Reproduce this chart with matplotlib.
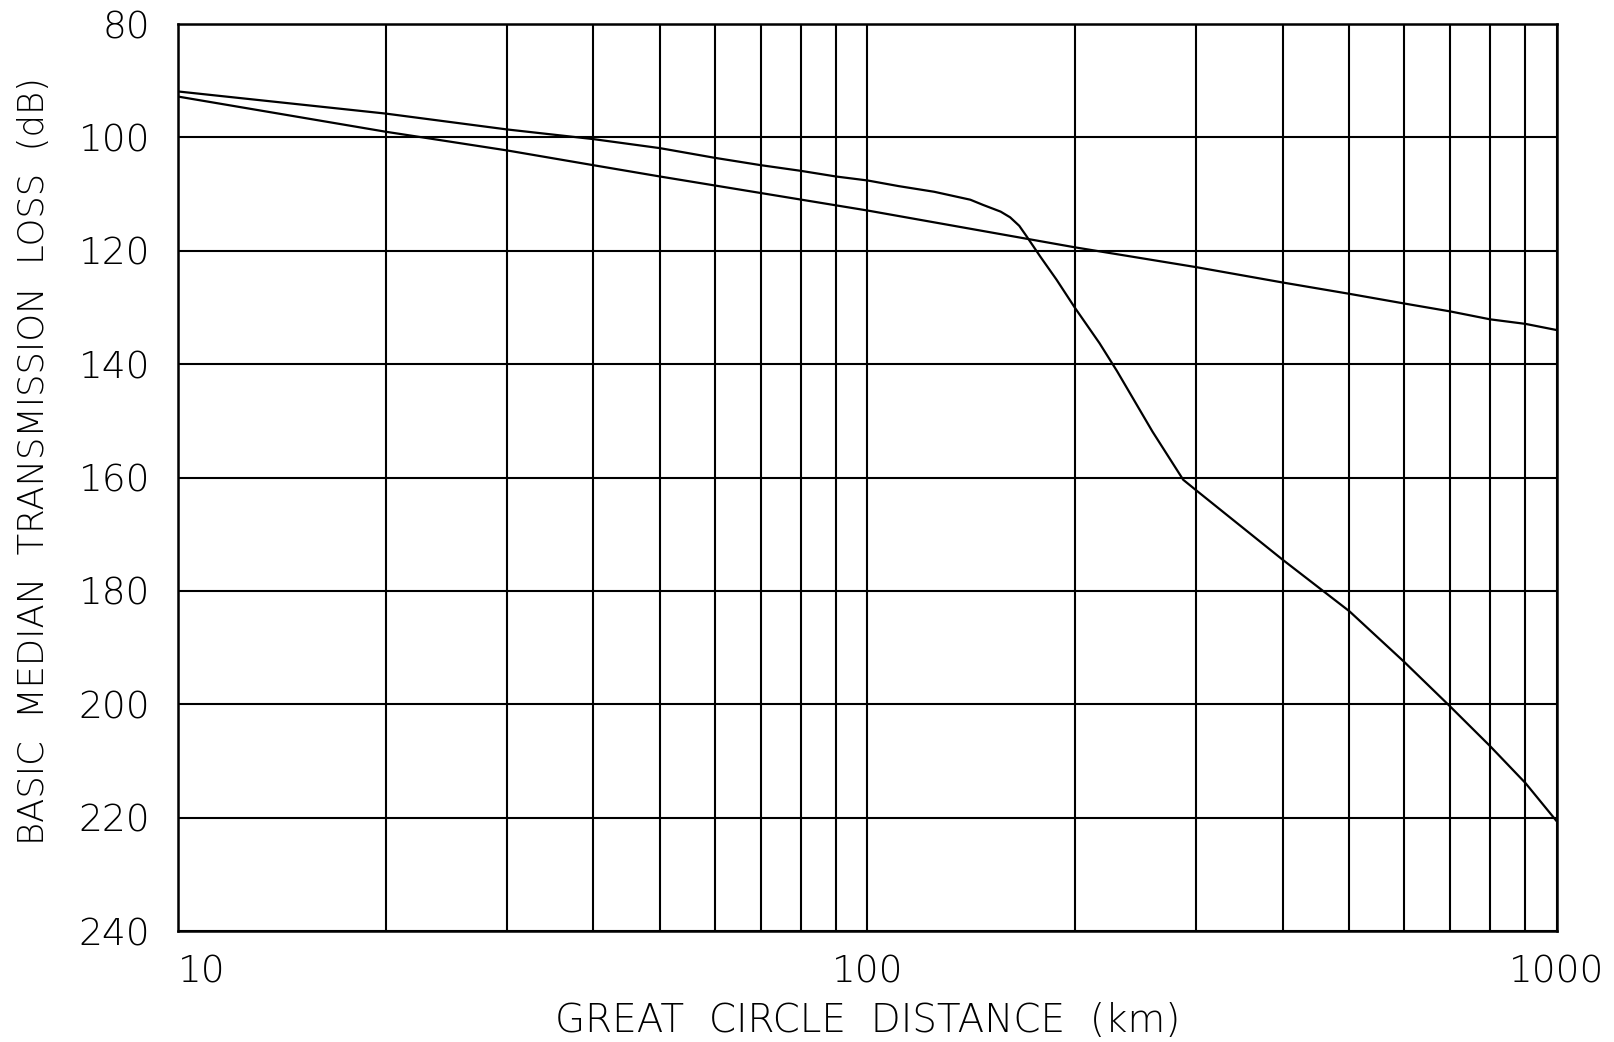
import matplotlib
matplotlib.use("Agg")
import matplotlib.pyplot as plt
from matplotlib.ticker import FixedLocator, NullFormatter

# Distance (km) and basic median transmission loss (dB)
dist_a = [10, 20, 30, 40, 50, 60, 70, 80, 90, 100, 111, 125, 141, 147, 156,
          161, 166, 170, 178, 188, 200, 217, 230, 259, 287, 300, 400, 500,
          600, 700, 800, 900, 1000]
loss_a = [91.9, 95.8, 98.6, 100.3, 101.9, 103.6, 104.9, 105.9, 106.9, 107.6,
          108.6, 109.6, 111.0, 111.9, 113.1, 114.1, 115.6, 117.4, 121.0,
          125.1, 130.1, 136.3, 141.2, 151.9, 160.4, 162.3, 174.5, 183.6,
          192.5, 200.4, 207.4, 213.9, 220.7]

dist_b = [10, 20, 30, 40, 50, 100, 200, 300, 400, 500, 600, 700, 800, 900,
          1000]
loss_b = [92.8, 99.0, 102.3, 104.9, 106.9, 112.9, 119.4, 122.9, 125.6, 127.6,
          129.3, 130.7, 132.1, 132.9, 134.0]

x_ticks = [10, 100, 1000]
x_tick_labels = ["10", "100", "1000"]
y_ticks = [80, 100, 120, 140, 160, 180, 200, 220, 240]
x_minor = [20, 30, 40, 50, 60, 70, 80, 90, 200, 300, 400, 500, 600, 700,
           800, 900]

plt.rcParams["font.family"] = ["DejaVu Sans"]

fig = plt.figure(figsize=(16.15, 10.42), dpi=100)
ax = fig.add_axes([178 / 1615, 1 - 931 / 1042, (1557 - 178) / 1615,
                   (931 - 24) / 1042])

ax.set_xscale("log")
ax.set_xlim(10, 1000)
ax.set_ylim(240, 80)

ax.xaxis.set_major_locator(FixedLocator(x_ticks))
ax.xaxis.set_minor_locator(FixedLocator(x_minor))
ax.xaxis.set_minor_formatter(NullFormatter())
ax.set_xticklabels(x_tick_labels)
ax.yaxis.set_major_locator(FixedLocator(y_ticks))

ax.grid(True, which="both", axis="x", color="black", lw=1.5)
ax.grid(True, which="major", axis="y", color="black", lw=1.5)
ax.set_axisbelow(True)

ax.plot(dist_a, loss_a, color="black", lw=1.6)
ax.plot(dist_b, loss_b, color="black", lw=1.6)

for s in ax.spines.values():
    s.set_linewidth(1.8)
    s.set_color("black")

ax.tick_params(which="both", length=0)
ax.tick_params(axis="y", labelsize=27, pad=20)
ax.tick_params(axis="x", labelsize=27, pad=17)
for t in ax.get_yticklabels() + ax.get_xticklabels():
    t.set_fontweight("light")
xl = ax.get_xticklabels()
xl[0].set_horizontalalignment("left")

ax.set_xlabel("GREAT  CIRCLE  DISTANCE  (km)", fontsize=28,
              fontweight="light")
ax.set_ylabel("BASIC  MEDIAN  TRANSMISSION  LOSS  (dB)", fontsize=25.5,
              fontweight="light")
ax.xaxis.set_label_coords(0.5, (931 - 1002) / 907)
ax.yaxis.set_label_coords((51 - 178) / 1379, (931 - 461) / 907)

fig.savefig("out.png", dpi=100, facecolor="white")
